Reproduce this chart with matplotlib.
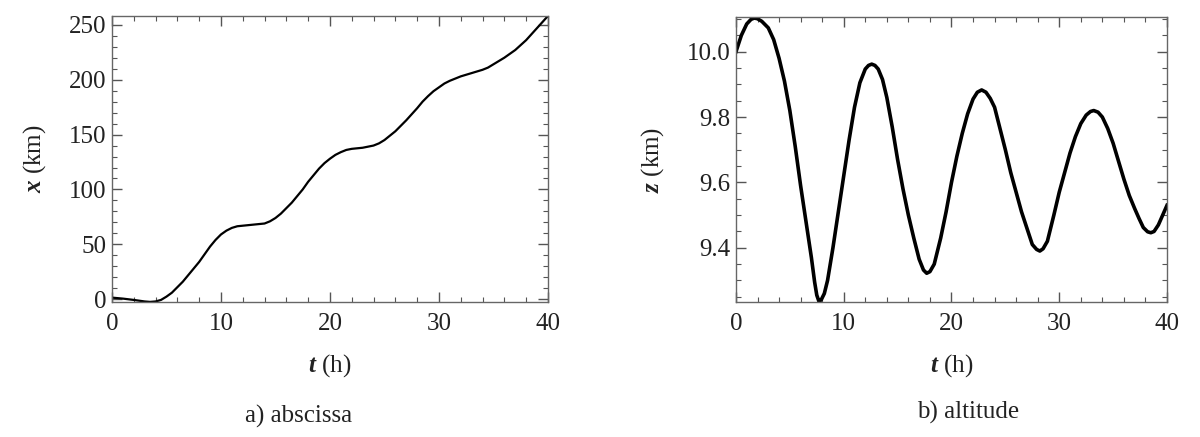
import matplotlib
matplotlib.use('Agg')
import matplotlib.pyplot as plt
from matplotlib.ticker import MultipleLocator, FormatStrFormatter

plt.rcParams['font.family'] = ['Liberation Serif', 'DejaVu Serif']
plt.rcParams['mathtext.fontset'] = 'custom'
plt.rcParams['mathtext.it'] = 'Liberation Serif:italic:bold'
plt.rcParams['mathtext.rm'] = 'Liberation Serif'

# a) abscissa, values
t_x = [0, 1, 2, 3, 3.5, 4, 4.5, 5, 5.5, 6, 6.5, 7, 7.5, 8, 8.5, 9, 9.5, 10, 10.5, 11, 11.5,
       12, 12.5, 13, 13.5, 14, 14.5, 15, 15.5, 16, 16.5, 17, 17.5, 18, 18.5, 19, 19.5, 20,
       20.5, 21, 21.5, 22, 22.5, 23, 23.5, 24, 24.5, 25, 25.5, 26, 26.5, 27, 27.5, 28, 28.5,
       29, 29.5, 30, 30.5, 31, 31.5, 32, 32.5, 33, 33.5, 34, 34.5, 35, 35.5, 36, 36.5, 37,
       37.5, 38, 38.5, 39, 39.5, 40]
x_km = [1.5, 0.6, -0.6, -2.0, -2.4, -2.0, -0.6, 2.4, 6, 11, 16, 22, 28, 34, 41, 48, 54, 59,
        62.5, 65, 66.5, 67, 67.5, 68, 68.5, 69, 71, 74, 78, 83, 88, 94, 100, 107, 113, 119,
        124, 128, 131.5, 134, 136, 137, 137.5, 138, 139, 140, 142, 145, 149, 153, 158, 163,
        168.5, 174, 180, 185, 189.5, 193, 196.5, 199, 201, 203, 204.5, 206, 207.5, 209, 211,
        214, 217, 220, 223.5, 227, 231.5, 236, 241.5, 247, 252.5, 258]

# b) altitude
t_z = [0, 0.5, 1, 1.4, 1.7, 2.0, 2.4, 3, 3.5, 4, 4.5, 5, 5.5, 6, 6.5, 7, 7.3, 7.5, 7.7,
       7.9, 8.2, 8.5, 9, 9.5, 10, 10.5, 11, 11.5, 12, 12.3, 12.6, 12.9, 13.2, 13.6, 14, 14.5,
       15, 15.5, 16, 16.5, 17, 17.4, 17.7, 18.0, 18.4, 19, 19.5, 20, 20.5, 21, 21.5, 22,
       22.4, 22.8, 23.2, 23.6, 24, 24.5, 25, 25.5, 26, 26.5, 27, 27.5, 27.9, 28.2, 28.5,
       28.9, 29.5, 30, 30.5, 31, 31.5, 32, 32.5, 32.9, 33.2, 33.6, 34, 34.5, 35, 35.5, 36,
       36.5, 37, 37.4, 37.8, 38.2, 38.5, 38.8, 39.2, 39.6, 40]
z_km = [10.00, 10.05, 10.085, 10.099, 10.103, 10.101, 10.093, 10.073, 10.037, 9.98, 9.91,
        9.82, 9.71, 9.59, 9.48, 9.37, 9.295, 9.255, 9.236, 9.24, 9.26, 9.30, 9.40, 9.51,
        9.62, 9.73, 9.83, 9.905, 9.947, 9.958, 9.962, 9.958, 9.947, 9.915, 9.86, 9.77, 9.67,
        9.58, 9.50, 9.43, 9.365, 9.332, 9.322, 9.327, 9.35, 9.43, 9.51, 9.60, 9.68, 9.75,
        9.81, 9.855, 9.876, 9.883, 9.876, 9.857, 9.83, 9.765, 9.70, 9.63, 9.57, 9.51, 9.46,
        9.41, 9.395, 9.39, 9.397, 9.42, 9.50, 9.57, 9.63, 9.69, 9.74, 9.78, 9.806, 9.817,
        9.82, 9.815, 9.80, 9.765, 9.72, 9.665, 9.61, 9.56, 9.52, 9.49, 9.462, 9.449, 9.446,
        9.45, 9.47, 9.50, 9.53]

fig = plt.figure(figsize=(12, 4.37), dpi=100)
ax1 = fig.add_axes([0.0933, 0.3089, 0.3633, 0.6545])
ax2 = fig.add_axes([0.6133, 0.3089, 0.3592, 0.652])


def style(ax, ymajor, yminor):
    ax.xaxis.set_major_locator(MultipleLocator(10))
    ax.xaxis.set_minor_locator(MultipleLocator(2))
    ax.yaxis.set_major_locator(MultipleLocator(ymajor))
    ax.yaxis.set_minor_locator(MultipleLocator(yminor))
    ax.tick_params(which='both', direction='in', top=True, right=True,
                   color='#555555', labelsize=18, labelcolor='#222222')
    ax.tick_params(axis='x', which='major', pad=8)
    ax.tick_params(axis='y', which='major', pad=4)
    ax.tick_params(which='major', length=7, width=1)
    ax.tick_params(which='minor', length=3.5, width=0.8)
    for s in ax.spines.values():
        s.set_color('#666666')
        s.set_linewidth(1)
    ax.set_xlim(0, 40)
    ax.set_xlabel(r'$t$ (h)', fontsize=18, color='#222222')
    ax.xaxis.set_label_coords(0.5, -0.175)
    ax.xaxis.label.set_va('top')


ax1.plot(t_x, x_km, color='black', lw=1.6)
style(ax1, 50, 10)
ax1.set_ylim(-2.5, 258)
ax1.set_ylabel(r'$x$ (km)', fontsize=18, color='#222222')
ax1.yaxis.set_label_coords(-0.177, 0.5)
ax1.yaxis.label.set_va('center')

ax2.plot(t_z, z_km, color='black', lw=2.6)
style(ax2, 0.2, 0.05)
ax2.set_ylim(9.234, 10.106)
ax2.yaxis.set_major_formatter(FormatStrFormatter('%.1f'))
ax2.set_ylabel(r'$z$ (km)', fontsize=18, color='#222222')
ax2.yaxis.set_label_coords(-0.193, 0.5)
ax2.yaxis.label.set_va('center')

fig.text(0.249, 0.048, 'a) abscissa', ha='center', va='center', fontsize=18, color='#222222')
fig.text(0.807, 0.057, 'b) altitude', ha='center', va='center', fontsize=18, color='#222222')

fig.savefig('out.png', dpi=100)
